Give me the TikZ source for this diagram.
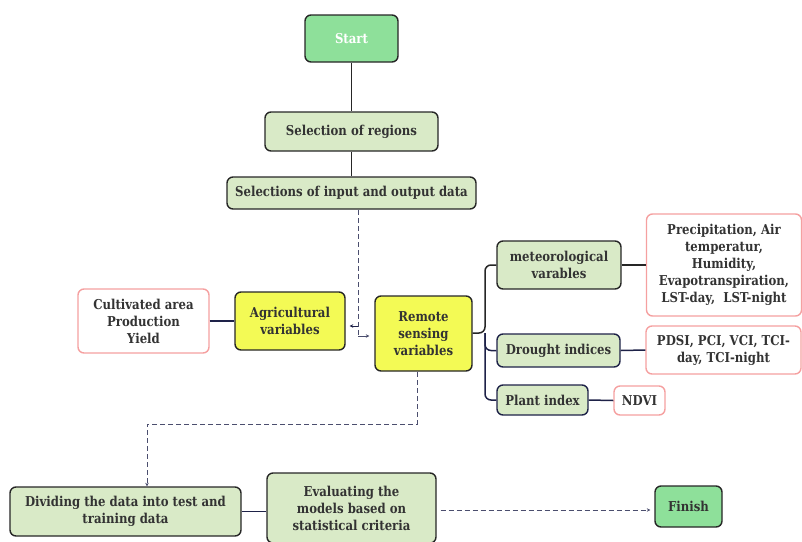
\documentclass[tikz,border=0pt]{standalone}
\usepackage{fontspec}
\setmainfont{DejaVu Serif}[FakeStretch=0.86]
\usetikzlibrary{arrows.meta,calc}
\definecolor{mint}{HTML}{8EE09A}
\definecolor{lgreen}{HTML}{D9EAC7}
\definecolor{yel}{HTML}{F3FA55}
\definecolor{pinkb}{HTML}{F5A0A0}
\definecolor{navy}{HTML}{1E2248}
\definecolor{dashc}{HTML}{4B4E6E}
\definecolor{txt}{HTML}{333333}
\tikzset{
  box/.style={draw=black!85, line width=1.4pt, rounded corners=6pt, align=center,
    font=\fontsize{13.6}{17}\selectfont\bfseries, text=txt, inner sep=1pt},
  gbox/.style={box, fill=lgreen},
  nbox/.style={box, fill=lgreen, draw=navy},
  ybox/.style={box, fill=yel},
  sbox/.style={box, fill=mint},
  pbox/.style={box, draw=pinkb, fill=white},
  conn/.style={line width=1.5pt, draw=navy},
  bconn/.style={line width=1.5pt, draw=black!85},
  dconn/.style={line width=0.9pt, draw=dashc, dash pattern=on 5pt off 3pt},
  tip/.style={-{Stealth[length=3.5pt,width=3.5pt]}}
}
\begin{document}
\begin{tikzpicture}[x=1pt,y=-1pt]
\useasboundingbox (0,0) rectangle (802,541);
\node[sbox, minimum width=93pt, minimum height=47pt, text=white] (start) at (351.5,38.5) {Start};
\node[gbox, minimum width=173pt, minimum height=39pt] (reg) at (351.5,131.5) {Selection of regions};
\node[gbox, minimum width=249pt, minimum height=32pt] (io) at (351.5,193) {Selections of input and output data};
\node[pbox, minimum width=131pt, minimum height=64pt] (cult) at (143.5,321) {Cultivated area\\Production\\Yield};
\node[ybox, minimum width=110pt, minimum height=58pt] (agri) at (290,321) {Agricultural\\variables};
\node[ybox, minimum width=97pt, minimum height=75pt] (rem) at (423.5,333.5) {Remote\\sensing\\variables};
\node[gbox, minimum width=124pt, minimum height=48pt] (met) at (559,265) {meteorological\\varables};
\node[pbox, minimum width=155pt, minimum height=102pt] (prec) at (724,265) {Precipitation, Air\\temperatur,\\Humidity,\\Evapotranspiration,\\LST-day,~ LST-night};
\node[nbox, minimum width=123pt, minimum height=33pt] (dro) at (558.5,350.5) {Drought indices};
\node[pbox, minimum width=155pt, minimum height=48pt] (pdsi) at (723.5,350) {PDSI, PCI, VCI, TCI-\\day, TCI-night};
\node[nbox, minimum width=91pt, minimum height=30pt] (plant) at (542.5,400) {Plant index};
\node[pbox, minimum width=51pt, minimum height=29pt] (ndvi) at (639.5,400.5) {NDVI};
\node[gbox, minimum width=231pt, minimum height=49pt] (div) at (125.5,511.5) {Dividing the data into test and\\training data};
\node[gbox, minimum width=169pt, minimum height=70pt] (eval) at (351.5,508) {Evaluating the\\models based on\\statistical criteria};
\node[sbox, minimum width=67pt, minimum height=41pt] (fin) at (688.5,506.5) {Finish};
% top connectors
\draw[bconn] (start.south) -- (reg.north);
\draw[bconn] (reg.south) -- (io.north);
% left
\draw[conn] (cult.east) -- (agri.west);
% trunk
\coordinate (trunk) at (485,333);
\draw[bconn, rounded corners=6pt] (rem.east |- trunk) -- (trunk) |- (met.west);
\draw[conn, rounded corners=6pt] (trunk) |- (dro.west);
\draw[conn, rounded corners=6pt] (trunk) |- (plant.west);
\draw[bconn] (met.east) -- (prec.west);
\draw[conn] (dro.east) -- (pdsi.west);
\draw[conn] (plant.east) -- (ndvi.west);
% dashed from io
\coordinate (d1) at (358,210);
\coordinate (d2) at (358,336);
\coordinate (d3) at (358,326);
\draw[dconn] (d1) -- (d2);
\draw[line width=0.8pt, draw=navy, tip] (d3) -- ($(agri.east|-d3)+(4,0)$);
\draw[line width=0.8pt, draw=dashc, tip] (d2) -- ($(rem.west|-d2)+(-5,0)$);
% dashed from remote to dividing
\coordinate (e1) at (417,372);
\coordinate (e2) at (147,424);
\draw[dconn, tip] (e1) |- (e2) -- (e2 |- div.north);
% bottom
\draw[conn] (div.east) -- (div.east -| eval.west);
\draw[dconn, tip] ($(eval.east)+(4,2)$) -- ($(fin.west)+(-4,3.5)$);
\end{tikzpicture}
\end{document}
